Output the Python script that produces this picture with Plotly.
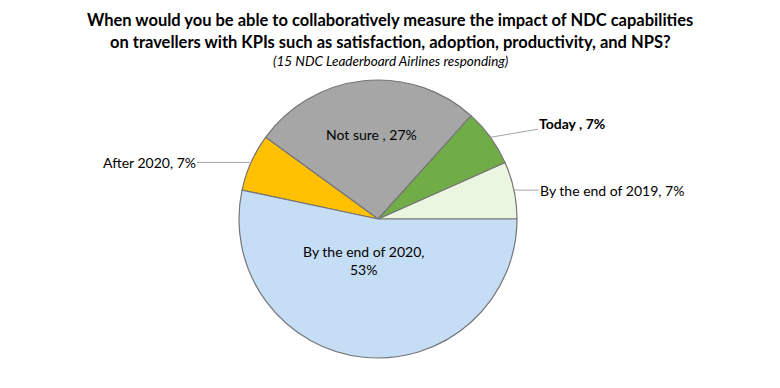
import math
import plotly.graph_objects as go

# ---- data ----
categories = ["By the end of 2019", "Today", "Not sure", "After 2020", "By the end of 2020"]
responses = [1, 1, 4, 1, 8]          # of 15 airlines
label_text = ["By the end of 2019, 7%", "<b>Today , 7%</b>", "Not sure , 27%",
              "After 2020, 7%", "By the end of 2020,<br>53%"]
colors = ["#EBF6E0", "#70AD47", "#A6A6A6", "#FFC000", "#C5DDF5"]

title_line1 = "When would you be able to collaboratively measure the impact of NDC capabilities"
title_line2 = "on travellers with KPIs such as satisfaction, adoption, productivity, and NPS?"
subtitle = "(15 NDC Leaderboard Airlines responding)"

# ---- layout geometry (pixels) ----
W, H = 780, 388
CX, CY, R = 378, 219, 139
FONT = "Lato"

total = sum(responses)
# plotly shifts a counterclockwise pie by its first slice; start first slice at 3 o'clock
rotation = 90 - responses[0] / total * 360.0

fig = go.Figure(go.Pie(
    labels=categories, values=responses, sort=False, direction="counterclockwise",
    rotation=rotation, textinfo="none", hoverinfo="label+percent",
    marker=dict(colors=colors, line=dict(color="#767676", width=1.2)),
    domain=dict(x=[(CX - R) / W, (CX + R) / W], y=[(H - CY - R) / H, (H - CY + R) / H]),
    showlegend=False,
))

# label styles: (mode, radial factor, ax, ay)
styles = [
    ("out", 1.0, 98, 0),
    ("out", 1.0, 82, -14),
    ("in", 0.61, 2, 0),
    ("out", 1.0, -102, 0),
    ("in", 0.32, -10, -3),
]

cum = 0.0
annotations = []
for v, txt, (mode, rf, ax, ay) in zip(responses, label_text, styles):
    mid = (cum + v / 2) / total * 360.0
    cum += v
    px = CX + rf * R * math.cos(math.radians(mid))
    py = CY - rf * R * math.sin(math.radians(mid))
    if mode == "out":
        annotations.append(dict(
            x=px / W, y=1 - py / H, xref="paper", yref="paper", text=txt,
            showarrow=True, arrowhead=0, arrowwidth=1, arrowcolor="#A6A6A6",
            ax=ax, ay=ay, font=dict(family=FONT, size=14, color="#000000"),
            standoff=0, startstandoff=0))
    else:
        annotations.append(dict(
            x=(px + ax) / W, y=1 - (py + ay) / H, xref="paper", yref="paper", text=txt,
            xanchor="center", yanchor="middle",
            showarrow=False, font=dict(family=FONT, size=14, color="#000000")))

annotations += [
    dict(x=390 / W, y=1 - 20 / H, xref="paper", yref="paper", text="<b>" + title_line1 + "</b>",
         xanchor="center", yanchor="middle",
         showarrow=False, font=dict(family=FONT, size=16.5, color="#000000")),
    dict(x=390 / W, y=1 - 42 / H, xref="paper", yref="paper", text="<b>" + title_line2 + "</b>",
         xanchor="center", yanchor="middle",
         showarrow=False, font=dict(family=FONT, size=16.5, color="#000000")),
    dict(x=390 / W, y=1 - 61 / H, xref="paper", yref="paper", text="<i>" + subtitle + "</i>",
         xanchor="center", yanchor="middle",
         showarrow=False, font=dict(family=FONT, size=13.5, color="#000000")),
]

fig.update_layout(
    width=W, height=H, margin=dict(l=0, r=0, t=0, b=0),
    paper_bgcolor="white", plot_bgcolor="white", annotations=annotations,
)

fig.write_html("out.html", config={"displayModeBar": False},
               post_script="document.body.style.margin='0';")
